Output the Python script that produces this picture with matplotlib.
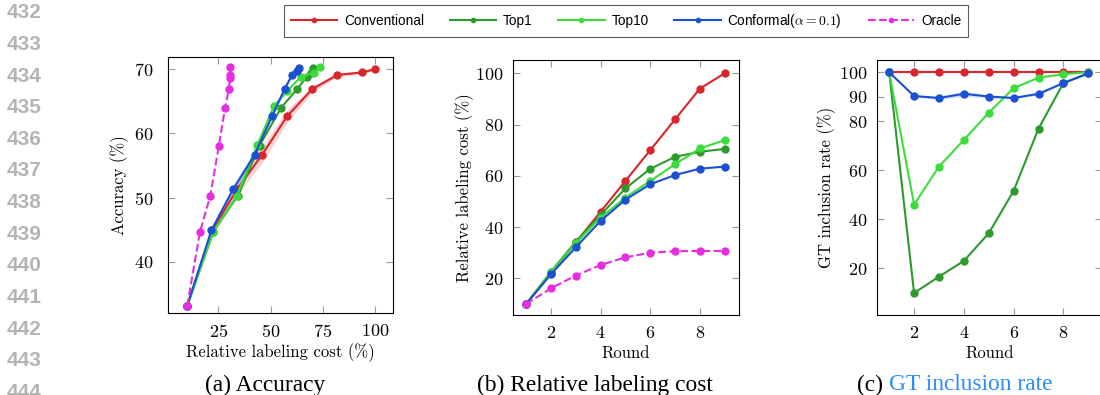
import matplotlib
matplotlib.use("Agg")
import matplotlib.pyplot as plt
import numpy as np

plt.rcParams["font.family"] = ["cmr10", "DejaVu Serif"]
plt.rcParams["mathtext.fontset"] = "cm"
plt.rcParams["axes.formatter.use_mathtext"] = True

# Active learning rounds
rounds = [1, 2, 3, 4, 5, 6, 7, 8, 9]

# Relative labeling cost (%) per round
cost_conventional = [10, 22, 34, 46, 58, 70, 82, 94, 100]
cost_top1 = [10, 22.6, 34.3, 44.7, 55.1, 62.7, 67.4, 69.4, 70.5]
cost_top10 = [10, 22.4, 33.7, 43.7, 51.5, 58.0, 64.5, 70.7, 73.9]
cost_conformal = [10, 21.6, 32.1, 42.4, 50.7, 56.7, 60.3, 62.8, 63.6]
cost_oracle = [10, 16.1, 21.1, 25.2, 28.2, 30.0, 30.6, 30.7, 30.7]

# Accuracy (%) per round
acc_conventional = [33.1, 44.9, 51.3, 56.7, 62.7, 66.9, 69.1, 69.5, 70.0]
acc_top1 = [33.1, 44.7, 50.3, 58.1, 64.0, 66.9, 68.8, 69.4, 70.2]
acc_top10 = [33.1, 44.6, 50.2, 58.2, 64.2, 66.6, 68.8, 69.4, 70.3]
acc_conformal = [33.1, 44.9, 51.3, 56.7, 62.7, 66.9, 69.1, 69.7, 70.15]
acc_oracle = [33.1, 44.6, 50.3, 58.1, 64.0, 66.9, 68.7, 69.1, 70.3]

# Spread over seeds (accuracy)
acc_std_conventional = [0, 0.3, 0.9, 1.3, 1.0, 0.5, 0.3, 0.3, 0.2]
acc_std_conformal = [0, 0.5, 0.8, 0.6, 0.4, 0.3, 0.2, 0.2, 0.1]

# Ground-truth inclusion rate (%) per round
gt_conventional = [100, 100, 100, 100, 100, 100, 100, 100, 100]
gt_top1 = [100, 9.9, 16.6, 23.0, 34.3, 51.6, 77.0, 95.6, 99.6]
gt_top10 = [100, 46.0, 61.5, 72.4, 83.5, 93.5, 97.8, 99.2, 100]
gt_conformal = [100, 90.3, 89.5, 91.2, 90.1, 89.5, 91.2, 95.6, 99.5]
gt_std_conformal = [0, 0.4, 0.6, 1.1, 0.5, 0.4, 0.4, 0.3, 0.1]

line_numbers = list(range(432, 445))

methods = ["Conventional", "Top1", "Top10", r"Conformal($\alpha=0.1$)", "Oracle"]
colors = ["#d8262b", "#2e9a2e", "#3ddc3d", "#1a50d2", "#e62ee0"]

W, H = 1100, 395


def style_axis(ax, ypad):
    ax.tick_params(direction="in", top=True, right=True, length=5, width=0.8,
                   color="#9a9a9a", labelsize=13)
    ax.tick_params(axis="x", pad=7)
    ax.tick_params(axis="y", pad=ypad)
    for s in ax.spines.values():
        s.set_linewidth(0.8)
        s.set_color("black")


def box(left, top, right, bottom):
    return [left / W, 1 - bottom / H, (right - left) / W, (bottom - top) / H]


line_kw = dict(marker="o", markersize=5, linewidth=1.5)

fig = plt.figure(figsize=(11, 3.95), dpi=100)

# (a) accuracy against labeling cost
ax1 = fig.add_axes(box(168, 57, 393, 313))
x_list = [cost_conventional, cost_top1, cost_top10, cost_conformal, cost_oracle]
y_list = [acc_conventional, acc_top1, acc_top10, acc_conformal, acc_oracle]
ax1.fill_between(cost_conventional,
                 np.array(acc_conventional) - acc_std_conventional,
                 np.array(acc_conventional) + acc_std_conventional,
                 color=colors[0], alpha=0.2, linewidth=0)
ax1.fill_between(cost_conformal,
                 np.array(acc_conformal) - acc_std_conformal,
                 np.array(acc_conformal) + acc_std_conformal,
                 color=colors[3], alpha=0.2, linewidth=0)
for i in range(5):
    ls = "--" if i == 4 else "-"
    ax1.plot(x_list[i], y_list[i], color=colors[i], linestyle=ls, **line_kw)
ax1.set_xlim(0.8, 108.7)
ax1.set_ylim(32.0, 71.9)
ax1.set_xticks([25, 50, 75, 100])
ax1.set_yticks([40, 50, 60, 70])
style_axis(ax1, 10.5)
ax1.set_xlabel("Relative labeling cost (%)", fontsize=12)
ax1.set_ylabel("Accuracy (%)", fontsize=12)
ax1.xaxis.set_label_coords(0.5, (313 - 353) / 256)
ax1.xaxis.label.set_va("center")
ax1.yaxis.set_label_coords((120 - 168) / 225, 0.5)
ax1.yaxis.label.set_va("center")

# (b) labeling cost per round
ax2 = fig.add_axes(box(513, 60, 739, 315))
handles = []
for i, c in enumerate([cost_conventional, cost_top1, cost_top10, cost_conformal, cost_oracle]):
    ls = "--" if i == 4 else "-"
    h, = ax2.plot(rounds, c, color=colors[i], linestyle=ls, label=methods[i], **line_kw)
    handles.append(h)
ax2.set_xlim(0.47, 9.58)
ax2.set_ylim(5.7, 105.2)
ax2.set_xticks([2, 4, 6, 8])
ax2.set_yticks([20, 40, 60, 80, 100])
style_axis(ax2, 7)
ax2.set_xlabel("Round", fontsize=12)
ax2.set_ylabel("Relative labeling cost (%)", fontsize=12)
ax2.xaxis.set_label_coords(0.5, (315 - 353) / 255)
ax2.xaxis.label.set_va("center")
ax2.yaxis.set_label_coords((465 - 513) / 226, 0.5)
ax2.yaxis.label.set_va("center")

# (c) GT inclusion rate per round
ax3 = fig.add_axes(box(877, 60, 1102, 315))
ax3.fill_between(rounds,
                 np.array(gt_conformal) - gt_std_conformal,
                 np.array(gt_conformal) + gt_std_conformal,
                 color=colors[3], alpha=0.2, linewidth=0)
for i, g in enumerate([gt_conventional, gt_top1, gt_top10, gt_conformal]):
    ax3.plot(rounds, g, color=colors[i], **line_kw)
ax3.set_xlim(0.51, 9.55)
ax3.set_ylim(0.94, 105.0)
ax3.set_xticks([2, 4, 6, 8])
ax3.set_yticks([20, 40, 60, 80, 90, 100])
style_axis(ax3, 7)
ax3.set_xlabel("Round", fontsize=12)
ax3.set_ylabel("GT inclusion rate (%)", fontsize=12)
ax3.xaxis.set_label_coords(0.5, (315 - 353) / 255)
ax3.xaxis.label.set_va("center")
ax3.yaxis.set_label_coords((827 - 877) / 225, 0.5)
ax3.yaxis.label.set_va("center")

# shared legend on top
leg = fig.legend(handles=handles, loc="upper center", bbox_to_anchor=(626 / W, 1 - 5 / H),
                 ncol=5, frameon=True, fancybox=False, edgecolor="#333333",
                 prop={"family": "Liberation Sans", "size": 9.8},
                 handlelength=3.4, handletextpad=0.5, columnspacing=1.9,
                 borderpad=0.5, borderaxespad=0, markerscale=0.6)
leg.get_frame().set_linewidth(0.8)

# captions
cap_kw = dict(fontsize=16.8, family="Liberation Serif", va="center")
fig.text(265.5 / W, 1 - 385 / H, "(a) Accuracy", ha="center", **cap_kw)
fig.text(594.5 / W, 1 - 385 / H, "(b) Relative labeling cost", ha="center", **cap_kw)
t = fig.text(857 / W, 1 - 385 / H, "(c) ", ha="left", **cap_kw)
fig.canvas.draw()
ext = t.get_window_extent()
fig.text(ext.x1 / W, 1 - 385 / H, "GT inclusion rate", ha="left", color="#2b8cff", **cap_kw)

# line numbers in the margin
for k, n in enumerate(line_numbers):
    fig.text(7 / W, 1 - (12.7 + 31.65 * k) / H, str(n), ha="left", va="center",
             fontsize=15, fontweight="bold", family="Liberation Sans", color="#b4b4b4")

fig.savefig("out.png", dpi=100)
plt.close(fig)
